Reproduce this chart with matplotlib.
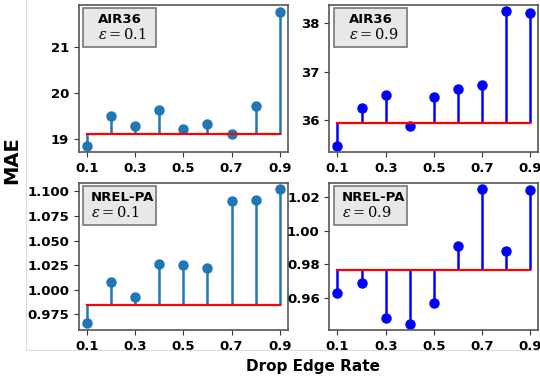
import matplotlib
matplotlib.use('Agg')
import matplotlib.pyplot as plt
import matplotlib.patches as mpatches
from matplotlib.lines import Line2D

plt.rcParams['mathtext.fontset'] = 'dejavuserif'

drop_rates = [0.1, 0.2, 0.3, 0.4, 0.5, 0.6, 0.7, 0.8, 0.9]
xtick_vals = [0.1, 0.3, 0.5, 0.7, 0.9]

air36_eps01 = [18.86, 19.49, 19.28, 19.63, 19.22, 19.33, 19.10, 19.72, 21.75]
air36_eps01_base = 19.12
air36_eps09 = [35.46, 36.25, 36.51, 35.88, 36.47, 36.63, 36.72, 38.25, 38.21]
air36_eps09_base = 35.94
nrel_eps01 = [0.966, 1.008, 0.993, 1.026, 1.025, 1.022, 1.090, 1.091, 1.102]
nrel_eps01_base = 0.985
nrel_eps09 = [0.9628, 0.9688, 0.9479, 0.9447, 0.9568, 0.9909, 1.025, 0.9877, 1.024]
nrel_eps09_base = 0.9768

panels = [
    ("AIR36", r"$\varepsilon = 0.1$", air36_eps01, air36_eps01_base, '#1f77b4', [19, 20, 21], ['19', '20', '21'], (18.72, 21.9)),
    ("AIR36", r"$\varepsilon = 0.9$", air36_eps09, air36_eps09_base, 'blue', [36, 37, 38], ['36', '37', '38'], (35.33, 38.38)),
    ("NREL-PA", r"$\varepsilon = 0.1$", nrel_eps01, nrel_eps01_base, '#1f77b4',
     [0.975, 1.0, 1.025, 1.05, 1.075, 1.1], ['0.975', '1.000', '1.025', '1.050', '1.075', '1.100'], (0.9591, 1.1084)),
    ("NREL-PA", r"$\varepsilon = 0.9$", nrel_eps09, nrel_eps09_base, 'blue',
     [0.96, 0.98, 1.0, 1.02], ['0.96', '0.98', '1.00', '1.02'], (0.9409, 1.0283)),
]

fig, axes = plt.subplots(2, 2, figsize=(5.4, 3.79), dpi=100)
fig.subplots_adjust(left=0.146, right=0.997, top=0.987, bottom=0.129, wspace=0.2, hspace=0.21)

for ax, (name, eps, vals, base, color, yt, ytl, ylim) in zip(axes.flat, panels):
    markerline, stemlines, baseline = ax.stem(drop_rates, vals, bottom=base,
                                              linefmt='-', markerfmt='o', basefmt='r-')
    markerline.set_color(color)
    markerline.set_markersize(6.5)
    stemlines.set_color(color)
    stemlines.set_linewidth(1.8)
    baseline.set_linewidth(1.6)
    ax.set_ylim(*ylim)
    ax.set_xlim(0.067, 0.933)
    ax.set_xticks(xtick_vals)
    ax.set_xticklabels([str(v) for v in xtick_vals], fontsize=9.5, fontweight='bold')
    ax.set_yticks(yt)
    ax.set_yticklabels(ytl, fontsize=9.5, fontweight='bold')
    for sp in ax.spines.values():
        sp.set_color('#555555')
        sp.set_linewidth(1.2)
    ax.tick_params(colors='#333333', labelcolor='black')

    # label box
    box = mpatches.Rectangle((0.02, 0.714), 0.35, 0.266, transform=ax.transAxes,
                             facecolor='#e8e8e8', edgecolor='#777777', linewidth=1.2, zorder=5)
    ax.add_patch(box)
    tx = 0.092 if name == "AIR36" else 0.058
    ax.text(tx, 0.898, name, transform=ax.transAxes, fontsize=9.5, fontweight='bold',
            ha='left', va='center', zorder=6)
    ax.text(tx, 0.796, eps, transform=ax.transAxes, fontsize=10.5,
            ha='left', va='center', zorder=6)

fig.text(0.022, 0.577, 'MAE', rotation=90, fontsize=14, fontweight='bold', ha='center', va='center')
fig.text(0.58, 0.034, 'Drop Edge Rate', fontsize=11, fontweight='bold', ha='center', va='center')

# faint frame lines
fig.add_artist(Line2D([26/540, 26/540], [1, 1 - 350/379], transform=fig.transFigure, color='#dddddd', lw=0.8))
fig.add_artist(Line2D([26/540, 1], [1 - 350/379, 1 - 350/379], transform=fig.transFigure, color='#dddddd', lw=0.8))

plt.savefig('out.png', dpi=100)
